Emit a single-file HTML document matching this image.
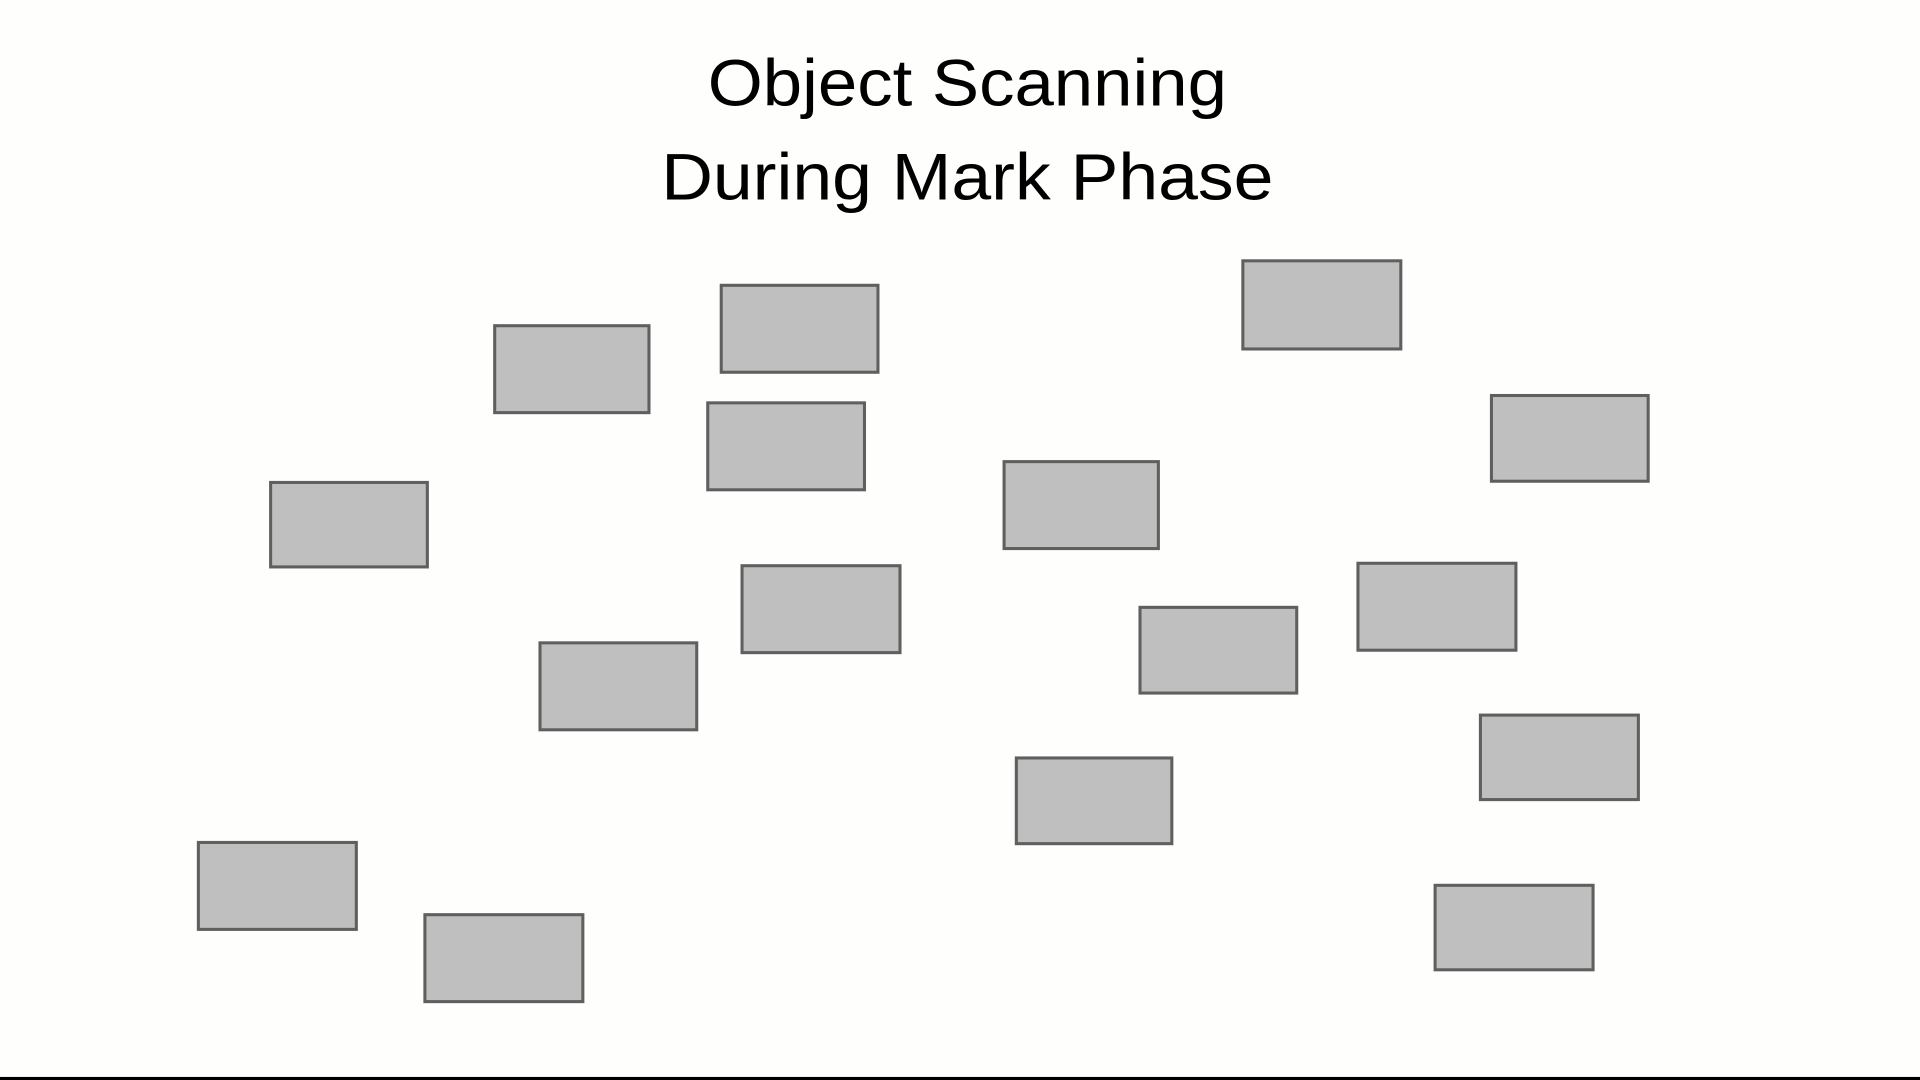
<!DOCTYPE html>
<html><head><meta charset="utf-8"><style>
html,body{margin:0;padding:0;background:#fefefd;}
svg{display:block;}
</style></head><body>
<svg width="1920" height="1080" viewBox="0 0 1568 882" preserveAspectRatio="none" xmlns="http://www.w3.org/2000/svg">
<rect x="0" y="0" width="1568" height="882" fill="#fefefd"/>
<g font-family="Liberation Sans, sans-serif" font-size="54" fill="#000" text-anchor="middle">
<text x="790" y="86" textLength="424" lengthAdjust="spacingAndGlyphs">Object Scanning</text>
<text x="790" y="163" textLength="500" lengthAdjust="spacingAndGlyphs">During Mark Phase</text>
</g>
<g fill="#bfbfbf" stroke="#5f5f5f" stroke-width="2.5">
<rect x="404" y="266" width="126" height="71"/>
<rect x="589" y="233" width="128" height="71"/>
<rect x="1015" y="213" width="129" height="72"/>
<rect x="1218" y="323" width="128" height="70"/>
<rect x="578" y="329" width="128" height="71"/>
<rect x="221" y="394" width="128" height="69"/>
<rect x="820" y="377" width="126" height="71"/>
<rect x="606" y="462" width="129" height="71"/>
<rect x="1109" y="460" width="129" height="71"/>
<rect x="931" y="496" width="128" height="70"/>
<rect x="441" y="525" width="128" height="71"/>
<rect x="1209" y="584" width="129" height="69"/>
<rect x="830" y="619" width="127" height="70"/>
<rect x="162" y="688" width="129" height="71"/>
<rect x="347" y="747" width="129" height="71"/>
<rect x="1172" y="723" width="129" height="69"/>
</g>
<rect x="0" y="879.5" width="1568" height="2.5" fill="#000"/>
</svg>
</body></html>
